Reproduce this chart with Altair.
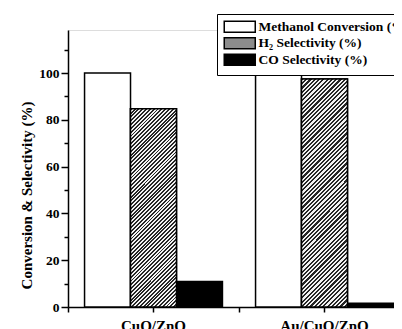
import altair as alt
import pandas as pd

catalysts = ["CuO/ZnO", "Au/CuO/ZnO"]
series = ["Methanol Conversion (%)", "H\u2082 Selectivity (%)", "CO Selectivity (%)"]
methanol = [100.0, 100.0]
h2 = [84.7, 97.5]
co = [10.9, 1.6]

rows = []
for i, c in enumerate(catalysts):
    rows.append({"catalyst": c, "series": series[0], "value": methanol[i]})
    rows.append({"catalyst": c, "series": series[1], "value": h2[i]})
    rows.append({"catalyst": c, "series": series[2], "value": co[i]})
df = pd.DataFrame(rows)

FONT = "Liberation Serif"
W, H = 342, 277
YMAX = 118.4
BAR_W = 46.0


def hatch(bar_h, lut=256, per=4):
    # diagonal "/" stripes at 45 degrees: t = (x + y) / (w + h)
    r = bar_h / BAR_W
    k = (1 + r) / (1 + r * r)
    stops = []
    j = 0
    while j * per < lut:
        a = j * per / lut
        b = (j * per + per / 2) / lut
        c = (j + 1) * per / lut
        stops += [
            alt.GradientStop(offset=min(a, 1), color="#262626"),
            alt.GradientStop(offset=min(b, 1), color="#262626"),
            alt.GradientStop(offset=min(b, 1), color="#f2f2f2"),
            alt.GradientStop(offset=min(c, 1), color="#f2f2f2"),
        ]
        j += 1
    return alt.LinearGradient(gradient="linear", stops=stops, x1=0, y1=0, x2=k, y2=k * r)


x_main = alt.X(
    "catalyst:N", sort=catalysts, title=None,
    scale=alt.Scale(paddingInner=0, paddingOuter=0),
    axis=alt.Axis(labelAngle=0, labelFont=FONT, labelFontWeight="bold", labelFontSize=15,
                  labelColor="black", labelPadding=6, tickSize=5, tickWidth=1.5, tickColor="black",
                  domainColor="black", domainWidth=1.5, orient="bottom"),
)
y_main = alt.Y(
    "value:Q", title="Conversion & Selectivity (%)",
    scale=alt.Scale(domain=[0, YMAX], nice=False, zero=True),
    axis=alt.Axis(values=[0, 20, 40, 60, 80, 100], tickSize=7, tickWidth=1.5, tickColor="black",
                  domainColor="black", domainWidth=1.5, grid=False, orient="left",
                  labelFont=FONT, labelFontWeight="bold", labelFontSize=13.5, labelColor="black",
                  labelPadding=2, titleFont=FONT, titleFontWeight="bold", titleFontSize=15,
                  titleColor="black", titleX=-42, titleY=165, titleAngle=270,
                  titleAlign="center", titleBaseline="middle"),
)
xoff = alt.XOffset("series:N", sort=series,
                   scale=alt.Scale(paddingInner=0, paddingOuter=0.36))

bars = alt.Chart(df).mark_bar(stroke="black", strokeWidth=1.5).encode(
    x=x_main,
    y=y_main,
    xOffset=xoff,
    fill=alt.Fill("series:N", sort=series,
                  scale=alt.Scale(domain=series, range=["white", "#8c8c8c", "black"]),
                  legend=alt.Legend(title=None, orient="none", legendX=149, legendY=-16,
                                    fillColor="white", strokeColor="black", padding=6,
                                    labelFont=FONT, labelFontWeight="bold", labelFontSize=13.5,
                                    labelColor="black", labelLimit=400,
                                    symbolType="M-2.82,-1H2.82V1H-2.82Z", symbolSize=121,
                                    symbolOffset=10, symbolStrokeColor="black",
                                    symbolStrokeWidth=1.5, labelOffset=12, rowPadding=-1.5)),
)

layers = [bars]
for i, c in enumerate(catalysts):
    bar_h = h2[i] / YMAX * H
    enc = dict(
        x=alt.X("catalyst:N", sort=catalysts, axis=None),
        y=alt.Y("value:Q", axis=None),
        xOffset=alt.XOffset("series:N", sort=series),
    )
    if i == 0:
        enc["x"] = alt.X("catalyst:N", sort=catalysts, title=None,
                         axis=alt.Axis(labels=False, domain=False, tickBand="extent",
                                       tickSize=5, tickWidth=1.5, tickColor="black",
                                       orient="bottom"))
        enc["y"] = alt.Y("value:Q", title=None,
                         axis=alt.Axis(values=[10, 30, 50, 70, 90, 110], labels=False,
                                       domain=False, grid=False, tickSize=4, tickWidth=1.5,
                                       tickColor="black", orient="left"))
    lay = alt.Chart(df).transform_filter(
        (alt.datum.series == series[1]) & (alt.datum.catalyst == c)
    ).mark_bar(stroke="black", strokeWidth=1.5, fill=hatch(bar_h)).encode(**enc)
    layers.append(lay)

chart = alt.layer(*layers).resolve_axis(x="independent", y="independent").properties(
    width=W, height=H,
    autosize=alt.AutoSizeParams(type="none"),
    padding={"left": 60, "top": 22, "right": -16, "bottom": 22},
).configure_view(stroke="black", strokeWidth=1.5).configure(background="white")

chart.save("out.html", embed_options={"renderer": "svg", "actions": False})
